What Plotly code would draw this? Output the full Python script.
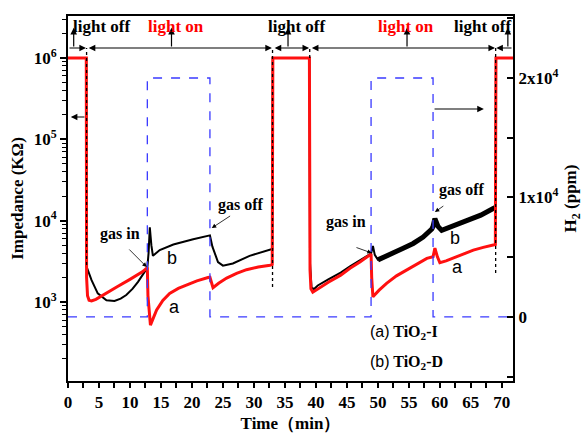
import plotly.graph_objects as go

# ---------------- data ----------------
# (a) TiO2-I  (red) : time (min), impedance (KOhm)
a_t = [0, 2.95, 3.0, 3.15, 3.4, 3.8, 4.5, 6.0, 8.0, 10.0, 12.0, 12.8, 12.9, 13.3, 14.3, 15.3,
       16.4, 17.8, 19.1, 20.8, 22.6, 22.9, 23.4, 24.3, 25.6, 27.2, 28.8, 30.7, 32.6, 32.95,
       33.05, 38.95, 39.05, 39.2, 39.5, 40.3, 42.0, 44.0, 45.5, 47.1, 48.9, 49.0, 49.2, 50.2,
       51.4, 53.0, 54.6, 56.3, 57.9, 58.9, 59.2, 59.6, 60.0, 61.0, 62.1, 63.8, 65.4, 67.0,
       68.6, 68.95, 69.05, 71.8]
a_z = [1e6, 1e6, 2.0e3, 1.2e3, 1.05e3, 1.03e3, 1.08e3, 1.25e3, 1.55e3, 1.9e3, 2.35e3, 2.65e3,
       1.2e3, 520, 800, 1.05e3, 1.28e3, 1.47e3, 1.62e3, 1.82e3, 2.0e3, 2.02e3, 1.5e3, 1.7e3,
       1.97e3, 2.25e3, 2.5e3, 2.7e3, 2.84e3, 2.9e3, 1e6, 1e6, 2.5e3, 1.45e3, 1.32e3, 1.45e3,
       1.75e3, 2.14e3, 2.6e3, 3.1e3, 3.9e3, 2.0e3, 1.16e3, 1.4e3, 1.7e3, 2.1e3, 2.47e3, 2.95e3,
       3.44e3, 3.6e3, 4.6e3, 3.6e3, 3.05e3, 3.2e3, 3.44e3, 3.9e3, 4.35e3, 4.7e3, 5.0e3, 5.1e3,
       1e6, 1e6]

# (b) TiO2-D  (black)
b_t = [0, 2.95, 3.0, 3.1, 3.8, 4.8, 6.2, 7.5, 8.5, 9.4, 10.4, 11.3, 12.2, 12.8, 13.0, 13.2,
       13.45, 13.7, 14.8, 17.0, 20.2, 22.9, 23.3, 24.2, 25.0, 26.6, 29.3, 32.8, 32.95, 33.05,
       38.95, 39.05, 39.3, 39.7, 40.3, 42.0, 44.0, 45.5, 47.1, 48.9, 49.2, 49.5, 50.0, 51.0,
       52.5, 54.0, 55.7, 57.3, 58.7, 58.9, 59.2, 59.7, 60.3, 61.5, 63.3, 65.0, 66.6, 68.6,
       68.95, 69.05, 71.8]
b_z = [1e6, 1e6, 2.7e3, 2.6e3, 1.86e3, 1.28e3, 1.05e3, 1.03e3, 1.1e3, 1.22e3, 1.45e3, 1.77e3,
       2.25e3, 2.65e3, 4.0e3, 8.3e3, 5.0e3, 3.7e3, 4.35e3, 5.1e3, 5.9e3, 6.6e3, 4.8e3, 3.1e3,
       2.8e3, 2.98e3, 3.7e3, 4.4e3, 4.5e3, 1e6, 1e6, 3.0e3, 1.5e3, 1.45e3, 1.6e3, 1.9e3,
       2.3e3, 2.75e3, 3.25e3, 3.95e3, 4.9e3, 3.8e3, 3.3e3, 3.55e3, 3.95e3, 4.55e3, 5.25e3,
       6.3e3, 7.9e3, 8.5e3, 1.06e4, 8.5e3, 7.6e3, 8.3e3, 9.3e3, 1.05e4, 1.17e4, 1.41e4,
       1.45e4, 1e6, 1e6]

# H2 concentration (ppm), step profile
h_t = [0, 12.8, 22.9, 48.9, 58.9, 71.8]
h_v = [0, 2e4, 0, 2e4, 0, 0]

# light switching times (min)
switch_t = [3.0, 33.0, 39.0, 69.0]

x_ticks = list(range(0, 71, 5))
y_tickvals = [1e3, 1e4, 1e5, 1e6]
y_ticktext = ["10<sup>3</sup>", "10<sup>4</sup>", "10<sup>5</sup>", "10<sup>6</sup>"]
y2_tickvals = [0, 1e4, 2e4]
y2_ticktext = ["0", "1x10<sup>4</sup>", "2x10<sup>4</sup>"]

SERIF = "Liberation Serif"
SANS = "Liberation Sans"
BOLD = dict(family=SERIF, size=16, color="black", weight="bold")

fig = go.Figure()

# hydrogen (right axis)
fig.add_trace(go.Scatter(x=h_t, y=h_v, yaxis="y2", mode="lines", line_shape="hv",
                         line=dict(color="#3a3aff", width=1.3, dash="dash"), showlegend=False))

# black curve b
fig.add_trace(go.Scatter(x=b_t, y=b_z, mode="lines",
                         line=dict(color="black", width=2), showlegend=False))
# noisy (thick) part of b
idx = [i for i, t in enumerate(b_t) if 50.0 <= t <= 68.95]
fig.add_trace(go.Scatter(x=[b_t[i] for i in idx], y=[b_z[i] for i in idx], mode="lines",
                         line=dict(color="black", width=5), showlegend=False))
# red curve a
fig.add_trace(go.Scatter(x=a_t, y=a_z, mode="lines",
                         line=dict(color="#ff1010", width=3), showlegend=False))

# ---------------- annotations ----------------
ann = []
Y_ARROW = 22512   # y2 value of the top horizontal arrow line
Y_TOP = 24200

def arrow(x, y, ax, ay, side="end", width=1.2):
    ann.append(dict(x=x, y=y, ax=ax, ay=ay, xref="x", yref="y2", axref="x", ayref="y2",
                    showarrow=True, arrowhead=2, arrowsize=1.1, arrowwidth=width,
                    arrowcolor="black", arrowside=side, text=""))

# horizontal period arrows
arrow(2.9, Y_ARROW, 0.0, Y_ARROW)
arrow(32.9, Y_ARROW, 3.1, Y_ARROW, side="end+start")
arrow(38.9, Y_ARROW, 33.1, Y_ARROW, side="end+start")
arrow(68.9, Y_ARROW, 39.1, Y_ARROW, side="end+start")
arrow(69.1, Y_ARROW, 71.8, Y_ARROW)
# up arrows to the labels
for ux in [0.92, 16.7, 35.5, 54.7, 70.97]:
    arrow(ux, Y_TOP, ux, Y_ARROW)

labels = [(5.4, "light off", "black"), (17.5, "light on", "red"), (36.8, "light off", "black"),
          (54.5, "light on", "red"), (66.8, "light off", "black")]
for lx, txt, col in labels:
    ann.append(dict(x=lx, y=24350, xref="x", yref="y2", text=txt, showarrow=False,
                    font=dict(family=SERIF, size=17, color=col, weight="bold"),
                    yanchor="middle"))

# axis indicator arrows
arrow(0.45, 16737, 2.9, 16737)
arrow(67.1, 17406, 58.9, 17406)

# gas in / off
gas = [(8.4, 6944, "gas in", 9.65, 5772, 12.7, 4182),
       (27.9, 9371, "gas off", 26.4, 8534, 23.2, 7446),
       (44.8, 7948, "gas in", 46.3, 5856, 49.0, 5354),
       (63.6, 10627, "gas off", 60.8, 9371, 59.2, 8785)]
for tx, ty, txt, x0, y0, x1, y1 in gas:
    ann.append(dict(x=tx, y=ty, xref="x", yref="y2", text=txt, showarrow=False, font=BOLD))
    arrow(x1, y1, x0, y0, width=0.8)

for lx, ly, txt in [(16.8, 4935, "b"), (17.2, 834, "a"), (62.4, 6609, "b"), (62.9, 4182, "a")]:
    ann.append(dict(x=lx, y=ly, xref="x", yref="y2", text=txt, showarrow=False,
                    font=dict(family=SANS, size=18, color="black")))

ann.append(dict(x=48.4, y=-1342, xref="x", yref="y2", xanchor="left", showarrow=False,
                text='<span style="font-family:Liberation Sans;font-weight:normal">(a)</span> TiO<sub>2</sub>-I',
                font=BOLD))
ann.append(dict(x=48.4, y=-3770, xref="x", yref="y2", xanchor="left", showarrow=False,
                text='<span style="font-family:Liberation Sans;font-weight:normal">(b)</span> TiO<sub>2</sub>-D',
                font=BOLD))

shapes = []
for st, yb in zip(switch_t, [4349, 2508, 21675, 3679]):
    shapes.append(dict(type="line", xref="x", yref="y2", x0=st, x1=st, y0=yb, y1=Y_ARROW,
                       line=dict(color="black", width=1.3, dash="dot")))

tickfont = dict(family=SERIF, size=17, color="black", weight="bold")
fig.update_layout(
    width=583, height=436,
    margin=dict(l=68, r=70, t=16, b=55),
    paper_bgcolor="white", plot_bgcolor="white",
    annotations=ann, shapes=shapes,
    xaxis=dict(range=[0, 71.8], tickvals=x_ticks, ticks="outside", ticklen=5, tickwidth=1.5,
               tickcolor="black", showline=True, linewidth=2, linecolor="black", mirror=True,
               showgrid=False, zeroline=False, tickfont=tickfont, automargin=False,
               minor=dict(dtick=2.5, tick0=0, ticks="outside", ticklen=5, tickwidth=1.5,
                          tickcolor="black"),
               title=dict(text="Time（min）", font=dict(family=SERIF, size=17, color="black",
                                                      weight="bold"), standoff=6)),
    yaxis=dict(type="log", range=[2.03, 6.515], tickvals=y_tickvals, ticktext=y_ticktext,
               ticks="outside", ticklen=6, tickwidth=1.5, tickcolor="black", automargin=False,
               showline=True, linewidth=2, linecolor="black", showgrid=False, zeroline=False,
               tickfont=tickfont,
               minor=dict(dtick="D1", ticks="outside", ticklen=4, tickwidth=1.2,
                          tickcolor="black"),
               title=dict(text="Impedance (KΩ)", font=dict(family=SERIF, size=17,
                                                           color="black", weight="bold"),
                          standoff=6)),
    yaxis2=dict(overlaying="y", side="right", range=[-5360, 25190], tickvals=y2_tickvals,
                ticktext=y2_ticktext, ticks="inside", ticklen=6, tickwidth=1.5,
                tickcolor="black", showline=True, linewidth=2, linecolor="black",
                showgrid=False, zeroline=False, tickfont=tickfont, automargin=False,
                minor=dict(dtick=5000, tick0=0, ticks="inside",
                           ticklen=6, tickwidth=1.5, tickcolor="black"),
                title=dict(text="H<sub>2</sub> (ppm)", font=dict(family=SERIF, size=17,
                                                                 color="black", weight="bold"),
                           standoff=16)),
)

fig.write_html("out.html")
